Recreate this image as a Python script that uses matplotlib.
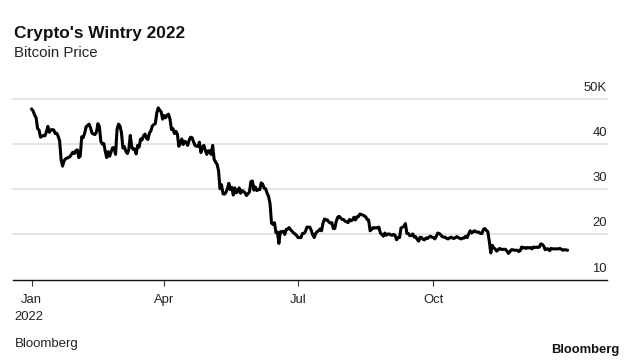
import matplotlib
matplotlib.use('Agg')
import matplotlib.pyplot as plt
import pandas as pd
from matplotlib.transforms import offset_copy

plt.rcParams['font.family'] = ['Liberation Sans', 'DejaVu Sans']

# daily bitcoin close, thousands of USD
jan = [47.7, 47.3, 46.4, 45.8, 43.4, 43.1, 41.5, 41.7, 41.9, 41.8, 42.7, 43.9, 42.6, 43.1, 43.2,
       43.1, 42.3, 42.4, 41.7, 40.7, 36.5, 35.1, 36.3, 36.7, 36.9, 37.0, 37.2, 37.7, 38.2, 37.9, 38.5]
feb = [38.7, 37.0, 37.3, 41.6, 41.4, 42.4, 43.8, 44.1, 44.4, 43.6, 42.4, 42.2, 42.1, 42.6,
       44.5, 43.9, 40.6, 40.0, 40.1, 38.4, 37.0, 38.3, 37.3, 38.3, 39.2, 39.1, 37.7, 43.2]
mar = [44.4, 44.0, 42.5, 39.1, 39.4, 38.4, 37.9, 38.7, 41.9, 39.4, 38.8, 38.9, 37.8, 39.7, 39.3,
       41.1, 40.9, 41.8, 42.2, 41.3, 41.0, 42.4, 42.9, 44.0, 44.3, 44.5, 46.8, 48.0, 47.5, 47.1, 45.5]
apr = [46.3, 45.8, 46.4, 46.6, 45.5, 43.2, 43.4, 42.3, 42.8, 42.2, 39.5, 40.1, 41.1, 39.9, 40.6,
       40.4, 39.7, 40.8, 41.5, 41.4, 40.5, 39.7, 39.5, 39.5, 40.4, 38.1, 39.2, 39.7, 38.6, 37.7]
may = [38.5, 38.5, 37.7, 39.7, 36.6, 36.0, 35.5, 34.1, 30.1, 31.0, 29.0, 28.9, 29.3, 30.1, 31.3,
       29.9, 30.4, 28.7, 30.3, 29.2, 29.4, 30.3, 29.1, 29.7, 29.5, 29.2, 28.6, 29.0, 29.4, 31.7, 31.8]
jun = [29.8, 30.5, 29.7, 29.9, 29.9, 31.4, 31.1, 30.2, 30.1, 29.1, 28.4, 26.8, 22.5, 22.2, 22.6,
       20.4, 20.5, 18.0, 20.6, 20.6, 20.7, 20.0, 21.1, 21.2, 21.5, 21.0, 20.7, 20.3, 20.1, 19.8]
jul = [19.3, 19.3, 19.3, 20.2, 20.2, 20.6, 21.6, 21.6, 21.6, 20.9, 19.9, 19.3, 20.2, 20.6, 20.8,
       21.2, 20.8, 22.5, 23.4, 23.2, 23.2, 22.7, 22.5, 22.6, 21.3, 21.3, 22.9, 23.8, 24.0, 23.6, 23.3]
aug = [23.3, 22.9, 22.8, 22.6, 23.3, 23.0, 23.2, 23.8, 23.2, 23.9, 23.9, 24.5, 24.4, 24.3, 24.1,
       23.9, 23.3, 23.2, 20.8, 21.1, 21.5, 21.4, 21.5, 21.4, 21.6, 20.3, 20.0, 19.6, 20.3, 19.8, 20.1]
sep = [20.1, 19.9, 19.8, 20.0, 19.8, 18.8, 19.3, 19.3, 21.4, 21.6, 21.8, 22.4, 20.2, 20.2, 19.7,
       19.8, 20.1, 19.4, 19.5, 18.9, 18.5, 19.4, 19.3, 18.9, 18.8, 19.2, 19.1, 19.4, 19.6, 19.4]
oct_ = [19.3, 19.0, 19.6, 20.3, 20.2, 19.9, 19.5, 19.4, 19.4, 19.1, 19.0, 19.2, 19.4, 19.2, 19.1,
        19.3, 19.5, 19.3, 19.1, 19.0, 19.2, 19.2, 19.6, 19.3, 20.1, 20.8, 20.3, 20.6, 20.8, 20.6, 20.5]
nov = [20.5, 20.2, 20.2, 21.1, 21.3, 20.9, 20.6, 18.5, 15.9, 17.6, 17.0, 16.8, 16.3, 16.6, 16.9,
       16.7, 16.7, 16.7, 16.7, 16.3, 15.8, 16.2, 16.6, 16.6, 16.5, 16.5, 16.5, 16.2, 16.4, 17.2]
dec = [17.0, 17.1, 16.9, 17.1, 17.0, 17.1, 16.8, 17.2, 17.1, 17.2, 17.1, 17.2, 17.9, 17.8, 17.4,
       16.6, 16.8, 16.8, 16.4, 16.9, 16.8, 16.8, 16.8, 16.8, 16.8, 16.9, 16.7, 16.5, 16.6, 16.6, 16.5]

prices = jan + feb + mar + apr + may + jun + jul + aug + sep + oct_ + nov + dec
dates = pd.date_range('2022-01-01', periods=len(prices), freq='D')

ytick_vals = [10, 20, 30, 40, 50]
ytick_labels = ['10', '20', '30', '40', '50K']
xtick_dates = ['2022-01-01', '2022-04-01', '2022-07-01', '2022-10-01']
xtick_labels = ['Jan', 'Apr', 'Jul', 'Oct']

W, H = 633, 362
fig = plt.figure(figsize=(W / 100, H / 100), dpi=100)
ax = fig.add_axes([13 / W, 1 - 279.6 / H, (607 - 13) / W, (279.6 - 98.8) / H])

# gridlines
for v in ytick_vals[1:]:
    ax.axhline(v, color='#e2e2e2', lw=1.3, zorder=0, clip_on=False)

ax.plot(dates, prices, color='black', lw=2.2, solid_joinstyle='round', zorder=3)

start = pd.Timestamp('2022-01-01')
ax.set_xlim(start - pd.Timedelta(days=12.7), start + pd.Timedelta(days=391))
ax.set_ylim(10, 50)

for s in ['top', 'left', 'right']:
    ax.spines[s].set_visible(False)
ax.spines['bottom'].set_color('#111111')
ax.spines['bottom'].set_linewidth(1.0)

ax.set_yticks([])
trans = offset_copy(ax.get_yaxis_transform(), fig=fig, y=8, units='dots')
for v, lab in zip(ytick_vals, ytick_labels):
    ax.text(1.0, v, lab, transform=trans, ha='right', va='baseline',
            fontsize=9.4, color='#222222')

ax.set_xticks(pd.to_datetime(xtick_dates))
ax.set_xticklabels(xtick_labels)
ax.tick_params(axis='x', direction='out', length=4.5, width=0.8, color='#333333',
               pad=6, labelsize=9.4, labelcolor='#222222')

fig.text(14 / W, 1 - 320 / H, '2022', fontsize=9.4, color='#222222', va='baseline')

# titles
fig.text(14 / W, 1 - 37.7 / H, "Crypto's Wintry 2022", fontsize=12.4, weight='bold',
         color='#111111', va='baseline')
fig.text(14 / W, 1 - 56.7 / H, 'Bitcoin Price', fontsize=10.8, color='#222222', va='baseline')

# source + logo
fig.text(15 / W, 1 - 346.7 / H, 'Bloomberg', fontsize=9.5, color='#222222', va='baseline')
fig.text(619 / W, 1 - 353 / H, 'Bloomberg', fontsize=9.4, weight='bold', color='#111111',
         ha='right', va='baseline')

fig.savefig('out.png', dpi=100)
